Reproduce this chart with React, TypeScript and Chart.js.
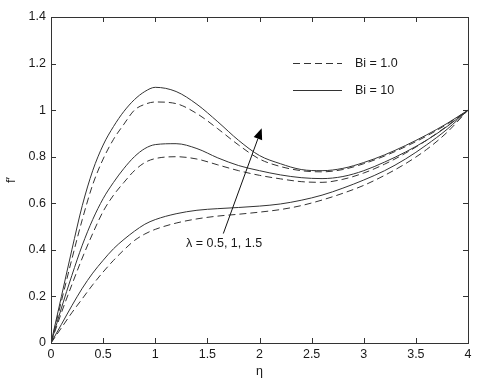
import React, { useEffect, useRef } from "react";
import { Chart, registerables } from "chart.js";

Chart.register(...registerables);

// ---- data ----
const eta = [0, 0.1, 0.2, 0.3, 0.4, 0.5, 0.6, 0.7, 0.8, 0.9, 1.0, 1.2, 1.4, 1.6, 1.8, 2.0, 2.2, 2.4, 2.6, 2.8, 3.0, 3.2, 3.4, 3.6, 3.8, 4.0];

// Bi = 10 (solid)
const bi10Lam05 = [0, 0.08, 0.16, 0.235, 0.3, 0.355, 0.405, 0.445, 0.48, 0.51, 0.53, 0.555, 0.57, 0.577, 0.582, 0.588, 0.597, 0.613, 0.635, 0.665, 0.7, 0.74, 0.79, 0.85, 0.918, 1.0];
const bi10Lam1 = [0, 0.15, 0.29, 0.42, 0.53, 0.62, 0.69, 0.75, 0.8, 0.835, 0.852, 0.856, 0.835, 0.795, 0.762, 0.74, 0.722, 0.71, 0.706, 0.715, 0.74, 0.777, 0.82, 0.87, 0.93, 1.0];
const bi10Lam15 = [0, 0.2, 0.4, 0.59, 0.74, 0.85, 0.93, 0.995, 1.045, 1.08, 1.098, 1.08, 1.025, 0.95, 0.87, 0.805, 0.77, 0.745, 0.74, 0.75, 0.775, 0.808, 0.848, 0.893, 0.943, 1.0];

// Bi = 1.0 (dashed)
const bi1Lam05 = [0, 0.065, 0.13, 0.19, 0.25, 0.305, 0.355, 0.4, 0.44, 0.468, 0.488, 0.515, 0.533, 0.545, 0.553, 0.562, 0.573, 0.59, 0.614, 0.643, 0.677, 0.72, 0.77, 0.83, 0.905, 1.0];
const bi1Lam1 = [0, 0.13, 0.25, 0.365, 0.47, 0.565, 0.635, 0.69, 0.74, 0.775, 0.792, 0.8, 0.79, 0.765, 0.74, 0.72, 0.705, 0.693, 0.69, 0.703, 0.73, 0.768, 0.815, 0.87, 0.932, 1.0];
const bi1Lam15 = [0, 0.18, 0.36, 0.53, 0.68, 0.79, 0.875, 0.94, 1.0, 1.025, 1.035, 1.028, 0.985, 0.92, 0.85, 0.79, 0.758, 0.74, 0.735, 0.745, 0.77, 0.803, 0.843, 0.888, 0.94, 1.0];

const xTickValues = [0, 0.5, 1, 1.5, 2, 2.5, 3, 3.5, 4];
const yTickValues = [0, 0.2, 0.4, 0.6, 0.8, 1.0, 1.2, 1.4];
const legendLabels = ["Bi = 1.0", "Bi = 10"];
const annotationText = "λ = 0.5, 1, 1.5";
const arrowTail = { x: 1.653, y: 0.47 };
const arrowTip = { x: 2.021, y: 0.922 };
const xTitle = "η";
const yTitle = "f′";

const FONT = "'Liberation Sans', Arial, Helvetica, sans-serif";
const LINE = "#333333";
const TEXT = "#1a1a1a";
const DASH = [7, 4];

const toPts = (ys: number[]) => eta.map((x, i) => ({ x, y: ys[i] }));
const fmt = (v: any) => String(parseFloat(Number(v).toFixed(2)));

const framePlugin = {
  id: "frame",
  afterDraw(chart: any) {
    const { ctx, chartArea: a, scales } = chart;
    const xs = scales.x;
    const ys = scales.y;
    ctx.save();
    ctx.strokeStyle = LINE;
    ctx.lineWidth = 1;
    ctx.setLineDash([]);
    ctx.strokeRect(Math.round(a.left) + 0.5, Math.round(a.top) + 0.5, Math.round(a.right - a.left), Math.round(a.bottom - a.top));
    const tl = 5;
    ctx.beginPath();
    xTickValues.forEach((v) => {
      const px = Math.round(xs.getPixelForValue(v)) + 0.5;
      ctx.moveTo(px, a.bottom);
      ctx.lineTo(px, a.bottom - tl);
      ctx.moveTo(px, a.top);
      ctx.lineTo(px, a.top + tl);
    });
    yTickValues.forEach((v) => {
      const py = Math.round(ys.getPixelForValue(v)) + 0.5;
      ctx.moveTo(a.left, py);
      ctx.lineTo(a.left + tl, py);
      ctx.moveTo(a.right, py);
      ctx.lineTo(a.right - tl, py);
    });
    ctx.stroke();

    // legend
    ctx.font = `12.5px ${FONT}`;
    ctx.fillStyle = TEXT;
    ctx.textBaseline = "middle";
    ctx.textAlign = "left";
    const rows = [
      { y: 63, dash: DASH, label: legendLabels[0] },
      { y: 90, dash: [] as number[], label: legendLabels[1] },
    ];
    rows.forEach((r) => {
      ctx.beginPath();
      ctx.setLineDash(r.dash);
      ctx.strokeStyle = LINE;
      ctx.moveTo(293, r.y + 0.5);
      ctx.lineTo(342, r.y + 0.5);
      ctx.stroke();
      ctx.setLineDash([]);
      ctx.fillText(r.label, 355, r.y + 0.5);
    });

    // arrow annotation
    const tx = xs.getPixelForValue(arrowTail.x);
    const ty = ys.getPixelForValue(arrowTail.y);
    const hx = xs.getPixelForValue(arrowTip.x);
    const hy = ys.getPixelForValue(arrowTip.y);
    const ang = Math.atan2(hy - ty, hx - tx);
    const hl = 11;
    const hw = 4.5;
    const bx = hx - hl * Math.cos(ang);
    const by = hy - hl * Math.sin(ang);
    ctx.beginPath();
    ctx.strokeStyle = "#111";
    ctx.moveTo(tx, ty);
    ctx.lineTo(bx, by);
    ctx.stroke();
    ctx.beginPath();
    ctx.fillStyle = "#000";
    ctx.moveTo(hx, hy);
    ctx.lineTo(bx + hw * Math.sin(ang), by - hw * Math.cos(ang));
    ctx.lineTo(bx - hw * Math.sin(ang), by + hw * Math.cos(ang));
    ctx.closePath();
    ctx.fill();

    ctx.fillStyle = TEXT;
    ctx.textAlign = "center";
    ctx.font = `12.5px ${FONT}`;
    ctx.fillText(annotationText, xs.getPixelForValue(1.66), ys.getPixelForValue(0.429));
    ctx.restore();
  },
};

export default function App() {
  const ref = useRef<HTMLCanvasElement | null>(null);

  useEffect(() => {
    document.body.style.margin = "0";
    if (!ref.current) return;
    const solid = (data: number[]) => ({
      data: toPts(data),
      borderColor: LINE,
      borderWidth: 1,
      pointRadius: 0,
      fill: false,
      cubicInterpolationMode: "monotone" as const,
    });
    const dashed = (data: number[]) => ({ ...solid(data), borderDash: DASH });
    const chart = new Chart(ref.current, {
      type: "line",
      data: {
        datasets: [
          { label: "Bi = 1.0, λ = 0.5", ...dashed(bi1Lam05) },
          { label: "Bi = 1.0, λ = 1", ...dashed(bi1Lam1) },
          { label: "Bi = 1.0, λ = 1.5", ...dashed(bi1Lam15) },
          { label: "Bi = 10, λ = 0.5", ...solid(bi10Lam05) },
          { label: "Bi = 10, λ = 1", ...solid(bi10Lam1) },
          { label: "Bi = 10, λ = 1.5", ...solid(bi10Lam15) },
        ],
      },
      options: {
        animation: false,
        responsive: true,
        maintainAspectRatio: false,
        layout: { padding: { top: 17, right: 12, left: 0, bottom: 0 } },
        plugins: { legend: { display: false }, tooltip: { enabled: false } },
        scales: {
          x: {
            type: "linear",
            min: 0,
            max: 4,
            afterBuildTicks: (s: any) => {
              s.ticks = xTickValues.map((v) => ({ value: v }));
            },
            afterFit: (s: any) => {
              s.height = 37;
            },
            grid: { display: false, drawTicks: false },
            border: { display: false },
            ticks: { padding: 4, color: TEXT, font: { family: FONT, size: 12.5 }, maxRotation: 0, autoSkip: false, callback: fmt },
            title: { display: true, text: xTitle, color: TEXT, font: { family: FONT, size: 12.5 }, padding: { top: 0, bottom: 1 } },
          },
          y: {
            type: "linear",
            min: 0,
            max: 1.4,
            afterBuildTicks: (s: any) => {
              s.ticks = yTickValues.map((v) => ({ value: v }));
            },
            afterFit: (s: any) => {
              s.width = 51;
            },
            grid: { display: false, drawTicks: false },
            border: { display: false },
            ticks: { padding: 5, color: TEXT, font: { family: FONT, size: 12.5 }, autoSkip: false, callback: fmt },
            title: { display: true, text: yTitle, color: TEXT, font: { family: FONT, size: 13 }, padding: { top: 4, bottom: 0 } },
          },
        },
      },
      plugins: [framePlugin],
    });
    return () => chart.destroy();
  }, []);

  return (
    <div style={{ position: "absolute", left: 0, top: 0, width: 480, height: 380, background: "#fff" }}>
      <canvas ref={ref} />
    </div>
  );
}
